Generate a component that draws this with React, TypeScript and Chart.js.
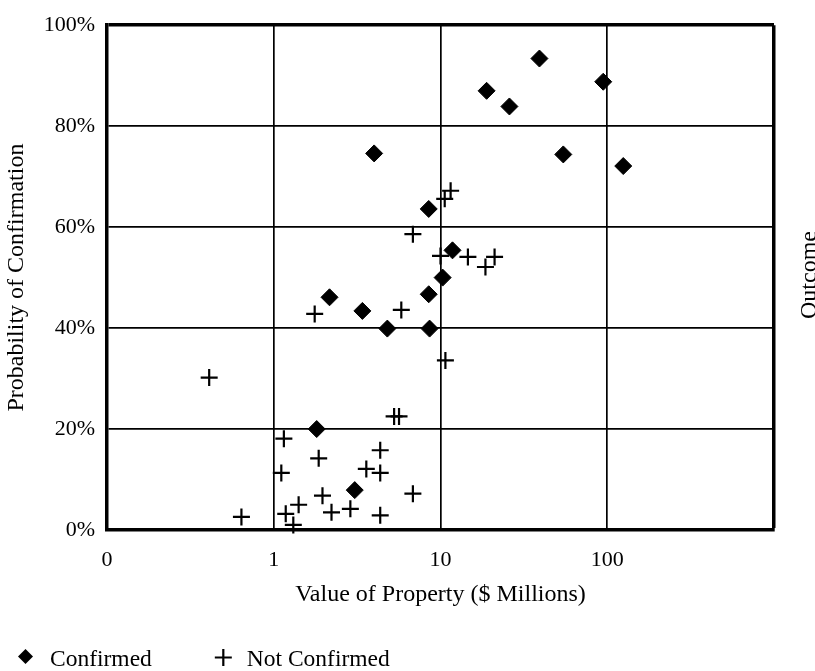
import React, { useEffect, useRef } from "react";
import { Chart, registerables } from "chart.js";

Chart.register(...registerables);

// ---- data ----
const seriesNames = ["Confirmed", "Not Confirmed"];

const confirmedX = [4.0, 18.9, 25.9, 39.2, 94.6, 54.5, 124.7, 8.5, 11.8, 10.3, 8.5, 8.6, 4.8, 3.4, 2.16, 1.81, 3.06];
const confirmedY = [74.6, 87.0, 83.9, 93.4, 88.8, 74.4, 72.1, 63.6, 55.4, 50.0, 46.7, 39.9, 39.9, 43.4, 46.1, 20.0, 7.9];

const notConfirmedX = [5.27, 5.64, 1.15, 1.86, 1.11, 4.35, 3.59, 4.35, 6.83, 1.96, 1.41, 1.18, 2.22, 2.88, 4.35, 1.31, 0.41, 0.64, 1.76, 5.82, 10.7, 6.83, 11.5, 10.6, 10.0, 14.6, 21.1, 18.6];
const notConfirmedY = [22.5, 22.5, 18.1, 14.2, 11.3, 15.8, 12.1, 11.3, 7.2, 6.8, 5.0, 3.2, 3.5, 4.2, 2.9, 1.0, 30.2, 2.6, 42.8, 43.6, 33.6, 58.6, 67.2, 65.6, 54.3, 54.1, 54.1, 52.1];

const xTickValues = [0.1, 1, 10, 100, 1000];
const xTickLabels = ["0", "1", "10", "100", ""];
const yTickValues = [0, 20, 40, 60, 80, 100];
const yTickLabels = ["0%", "20%", "40%", "60%", "80%", "100%"];

const xTitle = "Value of Property ($ Millions)";
const yTitle = "Probability of Confirmation";
const rightTitle = "Outcome";

const FONT = "'Liberation Serif', 'Times New Roman', serif";

const legendPlugin = {
  id: "customLegend",
  afterDraw(chart: any) {
    const ctx = chart.ctx as CanvasRenderingContext2D;
    ctx.save();
    ctx.font = `23.5px ${FONT}`;
    ctx.fillStyle = "#000";
    ctx.strokeStyle = "#000";
    ctx.textBaseline = "alphabetic";
    ctx.textAlign = "left";
    const baseline = 666;
    let x = 18;
    chart.data.datasets.forEach((ds: any) => {
      const cy = 656.5;
      if (ds.pointStyle === "rectRot") {
        const r = 7.5;
        const cx = x + r;
        ctx.beginPath();
        ctx.moveTo(cx - r, cy);
        ctx.lineTo(cx, cy - r);
        ctx.lineTo(cx + r, cy);
        ctx.lineTo(cx, cy + r);
        ctx.closePath();
        ctx.fill();
      } else {
        const r = 8.5;
        const cx = x + r;
        ctx.lineWidth = 2.2;
        ctx.beginPath();
        ctx.moveTo(cx - r, cy + 1);
        ctx.lineTo(cx + r, cy + 1);
        ctx.moveTo(cx, cy + 1 - r);
        ctx.lineTo(cx, cy + 1 + r);
        ctx.stroke();
      }
      ctx.fillText(ds.label, x + 32, baseline);
      x += 32 + ctx.measureText(ds.label).width + 63;
    });
    ctx.restore();
  },
};

const rightTitlePlugin = {
  id: "rightTitle",
  afterDraw(chart: any) {
    const ctx = chart.ctx as CanvasRenderingContext2D;
    ctx.save();
    ctx.font = `24px ${FONT}`;
    ctx.fillStyle = "#000";
    ctx.textAlign = "center";
    ctx.textBaseline = "alphabetic";
    ctx.translate(816, 275);
    ctx.rotate(-Math.PI / 2);
    ctx.fillText(rightTitle, 0, 0);
    ctx.restore();
  },
};

export default function App() {
  const ref = useRef<HTMLCanvasElement | null>(null);

  useEffect(() => {
    if (!ref.current) return;
    const chart = new Chart(ref.current, {
      type: "scatter",
      data: {
        datasets: [
          {
            label: seriesNames[0],
            data: confirmedX.map((x, i) => ({ x, y: confirmedY[i] })),
            pointStyle: "rectRot",
            pointRadius: 8.5,
            pointHoverRadius: 8.5,
            backgroundColor: "#000",
            borderColor: "#000",
            borderWidth: 1,
            clip: false,
          } as any,
          {
            label: seriesNames[1],
            data: notConfirmedX.map((x, i) => ({ x, y: notConfirmedY[i] })),
            pointStyle: "cross",
            pointRadius: 8.5,
            pointHoverRadius: 8.5,
            backgroundColor: "#000",
            borderColor: "#000",
            borderWidth: 2.2,
            clip: false,
          } as any,
        ],
      },
      options: {
        animation: false,
        responsive: false,
        maintainAspectRatio: false,
        layout: { padding: { left: 0, top: 14, right: 41, bottom: 61 } },
        plugins: {
          legend: { display: false },
          tooltip: { enabled: false },
        },
        scales: {
          x: {
            type: "logarithmic",
            min: 0.1,
            max: 1000,
            afterBuildTicks: (s: any) => {
              s.ticks = xTickValues.map((v) => ({ value: v }));
            },
            afterFit: (s: any) => {
              s.height = 80;
            },
            ticks: {
              callback: (_v: any, i: number) => xTickLabels[i],
              color: "#000",
              font: { family: FONT, size: 22 },
              padding: 17,
              maxRotation: 0,
              autoSkip: false,
            },
            grid: {
              color: "#000",
              lineWidth: (c: any) => (c.tick && c.tick.value === 1000 ? 3.5 : 1.7),
              drawTicks: false,
            },
            border: { display: true, color: "#000", width: 3.5 },
            title: {
              display: true,
              text: xTitle,
              color: "#000",
              font: { family: FONT, size: 24 },
              padding: { top: 0, bottom: 1 },
            },
          } as any,
          y: {
            min: 0,
            max: 100,
            afterBuildTicks: (s: any) => {
              s.ticks = yTickValues.map((v) => ({ value: v }));
            },
            afterFit: (s: any) => {
              s.width = 107;
            },
            ticks: {
              callback: (_v: any, i: number) => yTickLabels[i],
              color: "#000",
              font: { family: FONT, size: 22 },
              padding: 12,
              autoSkip: false,
            },
            grid: {
              color: "#000",
              lineWidth: (c: any) => (c.tick && c.tick.value === 100 ? 3.5 : 1.7),
              drawTicks: false,
            },
            border: { display: true, color: "#000", width: 3.5 },
            title: {
              display: true,
              text: yTitle,
              color: "#000",
              font: { family: FONT, size: 24 },
              padding: { top: 2, bottom: 0 },
            },
          } as any,
        },
      },
      plugins: [legendPlugin, rightTitlePlugin],
    });
    return () => chart.destroy();
  }, []);

  return (
    <div style={{ position: "fixed", left: 0, top: 0, width: 815, height: 671, background: "#fff" }}>
      <canvas ref={ref} width={815} height={671} style={{ width: 815, height: 671, display: "block" }} />
    </div>
  );
}
